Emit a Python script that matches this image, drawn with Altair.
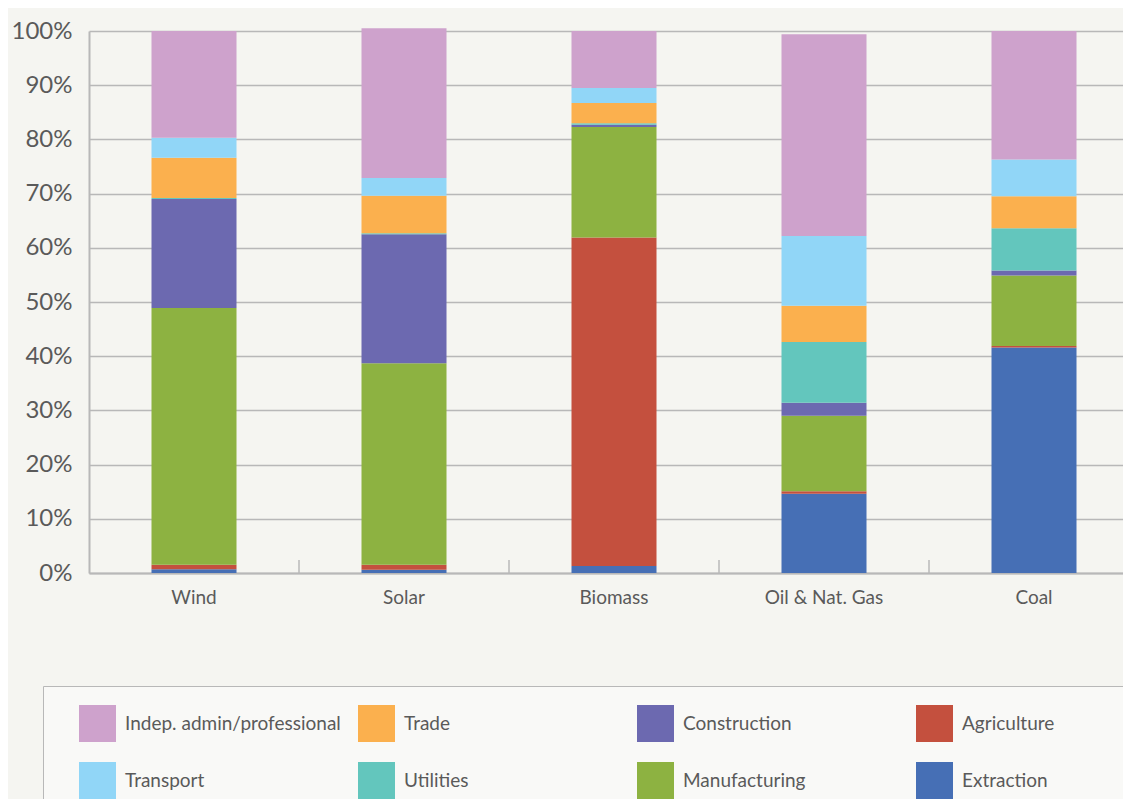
import altair as alt
import pandas as pd

categories = ["Wind", "Solar", "Biomass", "Oil & Nat. Gas", "Coal"]

# legend order (row by row, 4 columns)
legend_sectors = ["Indep. admin/professional", "Trade", "Construction", "Agriculture",
                  "Transport", "Utilities", "Manufacturing", "Extraction"]
legend_colors = ["#cea2cc", "#fbb04e", "#6c69b0", "#c4503e",
                 "#91d6f7", "#63c6bd", "#8db241", "#466fb5"]

# stacking order, bottom to top
stack_order = ["Extraction", "Agriculture", "Manufacturing", "Construction",
               "Utilities", "Trade", "Transport", "Indep. admin/professional"]

# shares in percent, per category (Wind, Solar, Biomass, Oil & Nat. Gas, Coal)
extraction    = [0.7, 0.6, 1.3, 14.6, 41.6]
agriculture   = [0.8, 0.9, 60.6, 0.5, 0.3]
manufacturing = [47.4, 37.2, 20.4, 13.9, 13.0]
construction  = [20.1, 23.8, 0.4, 2.4, 0.9]
utilities     = [0.2, 0.2, 0.3, 11.2, 7.8]
trade         = [7.4, 6.9, 3.7, 6.7, 5.9]
transport     = [3.7, 3.3, 2.8, 12.9, 6.8]
indep         = [19.7, 27.6, 10.5, 37.2, 23.7]

series = {
    "Extraction": extraction,
    "Agriculture": agriculture,
    "Manufacturing": manufacturing,
    "Construction": construction,
    "Utilities": utilities,
    "Trade": trade,
    "Transport": transport,
    "Indep. admin/professional": indep,
}

rows = []
for sector, vals in series.items():
    for cat, v in zip(categories, vals):
        rows.append({"category": cat, "sector": sector, "value": v,
                     "order": stack_order.index(sector)})
df = pd.DataFrame(rows)

tick_df = pd.DataFrame({"category": categories[1:]})

FONT = "Lato"
GRAY_TXT = "#5a5a5a"
GRID = "#b8b8b8"
LEGEND_BG = "#f9f9f7"

x_scale = alt.Scale(domain=categories, paddingInner=0, paddingOuter=0, range=[0, 1050])
y_scale = alt.Scale(domain=[0, 100], nice=False)

bars = alt.Chart(df).mark_bar(size=85).encode(
    x=alt.X("category:N", scale=x_scale, sort=categories,
            axis=alt.Axis(title=None, labelAngle=0, labelFontSize=19, labelColor=GRAY_TXT,
                          labelFont=FONT, labelPadding=15, ticks=False,
                          domainColor=GRID, domainWidth=2, grid=False)),
    y=alt.Y("value:Q", stack="zero", scale=y_scale,
            axis=alt.Axis(title=None, values=list(range(0, 101, 10)),
                          labelExpr="datum.value + '%'", labelFontSize=24,
                          labelColor=GRAY_TXT, labelFont=FONT, labelPadding=17,
                          ticks=False, domainColor=GRID, domainWidth=2,
                          gridColor=GRID, gridWidth=1.5)),
    color=alt.Color("sector:N", scale=alt.Scale(domain=legend_sectors, range=legend_colors),
                    legend=alt.Legend(title=" ", titleOrient="right", titlePadding=60,
                                      titleFontSize=2, titleColor=LEGEND_BG,
                                      orient="none", legendX=-46, legendY=655,
                                      direction="horizontal", columns=4, gridAlign="all",
                                      columnPadding=0, rowPadding=20, symbolType="square",
                                      symbolSize=1369, symbolStrokeWidth=0, symbolOffset=17,
                                      labelFontSize=19, labelFont=FONT, labelColor=GRAY_TXT,
                                      labelOffset=9, labelLimit=400, padding=19,
                                      fillColor=LEGEND_BG, strokeColor=GRID)),
    order=alt.Order("order:Q", sort="ascending"),
)

ticks = alt.Chart(tick_df).mark_rule(color=GRID, strokeWidth=1.5).encode(
    x=alt.X("category:N", scale=x_scale, sort=categories, bandPosition=0),
    y=alt.datum(0),
    y2=alt.datum(2.4),
)

chart = alt.layer(bars, ticks).properties(
    width=1034, height=542,
    autosize=alt.AutoSizeParams(type="none"),
    padding={"top": 23, "left": 81, "right": 0, "bottom": 226},
    background="#f5f5f1",
).configure_view(stroke=None)

chart.save("out.html", embed_options={"renderer": "svg", "actions": False})
